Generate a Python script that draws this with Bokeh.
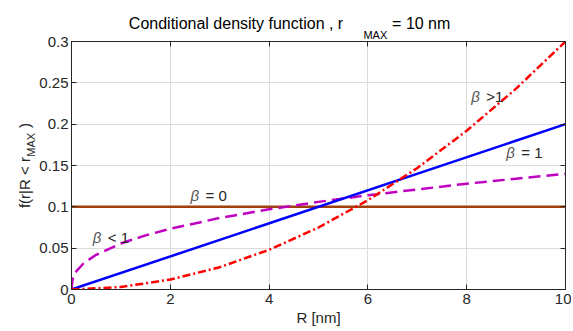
from bokeh.plotting import figure
from bokeh.models import Range1d, FixedTicker, LinearAxis, Label
from bokeh.embed import file_html
from bokeh.resources import INLINE

# ---- data ----
r_beta0 = [0, 10]
f_beta0 = [0.1, 0.1]

r_beta1 = [0, 10]
f_beta1 = [0.0, 0.2]

r_gt1 = [0, 1, 2, 3, 4, 5, 6, 7, 8, 9, 10]
f_gt1 = [0.0, 0.003, 0.012, 0.027, 0.048, 0.075, 0.108, 0.147, 0.192, 0.243, 0.300]

r_lt1 = [0, 0.02, 0.05, 0.1, 0.25, 0.5, 1, 1.5, 2, 3, 4, 5, 6, 7, 8, 9, 10]
f_lt1 = [0.0, 0.0117, 0.0168, 0.0222, 0.032, 0.042, 0.0557, 0.0655, 0.0735, 0.0865,
         0.097, 0.106, 0.114, 0.121, 0.128, 0.134, 0.140]

x_ticks = [0, 2, 4, 6, 8, 10]
x_tick_labels = ["0", "2", "4", "6", "8", "10"]
y_ticks = [0, 0.05, 0.1, 0.15, 0.2, 0.25, 0.3]
y_tick_labels = ["0", "0.05", "0.1", "0.15", "0.2", "0.25", "0.3"]

FONT = "Liberation Sans"
TXT = "#262626"
NB = "\u00a0"

p = figure(width=571, height=329, output_backend="svg", toolbar_location=None,
           x_range=Range1d(0, 10), y_range=Range1d(0, 0.3),
           min_border_left=71, min_border_right=6, min_border_top=41, min_border_bottom=40,
           title=None)
p.background_fill_color = "white"
p.border_fill_color = "white"
p.outline_line_color = TXT
p.outline_line_width = 1

for ax in (p.xaxis[0], p.yaxis[0]):
    ax.major_tick_in = 5
    ax.major_tick_out = 0
    ax.minor_tick_in = 0
    ax.minor_tick_out = 0
    ax.axis_line_color = TXT
    ax.major_tick_line_color = TXT
    ax.major_label_text_font = FONT
    ax.major_label_text_font_size = "15px"
    ax.major_label_text_color = TXT
    ax.axis_label_text_font = FONT
    ax.axis_label_text_font_size = "15px"
    ax.axis_label_text_font_style = "normal"
    ax.axis_label_text_color = TXT

p.xaxis[0].ticker = FixedTicker(ticks=x_ticks)
p.xaxis[0].major_label_overrides = {t: l for t, l in zip(x_ticks, x_tick_labels)}
p.xaxis[0].major_label_standoff = 4
p.xaxis[0].axis_label = "R [nm]"
p.xaxis[0].axis_label_standoff = 2

p.yaxis[0].ticker = FixedTicker(ticks=y_ticks)
p.yaxis[0].major_label_overrides = {t: l for t, l in zip(y_ticks, y_tick_labels)}
p.yaxis[0].major_label_standoff = 3

# box ticks on top and right (no labels)
for loc in ("above", "right"):
    ticks = x_ticks if loc == "above" else y_ticks
    ax = LinearAxis(ticker=FixedTicker(ticks=ticks))
    ax.major_label_overrides = {t: "" for t in ticks}
    ax.major_tick_in = 5
    ax.major_tick_out = 0
    ax.minor_tick_in = 0
    ax.minor_tick_out = 0
    ax.axis_line_color = TXT
    ax.major_tick_line_color = TXT
    ax.major_label_standoff = 0
    p.add_layout(ax, loc)


def text_axis(loc, tick, sub, label, sub_size, label_size, color, sub_standoff, label_standoff,
              orientation=None):
    ax = LinearAxis(ticker=FixedTicker(ticks=[tick]))
    ax.major_label_overrides = {tick: sub}
    ax.axis_line_color = None
    ax.major_tick_line_color = None
    ax.minor_tick_line_color = None
    ax.major_tick_in = 0
    ax.major_tick_out = 0
    ax.minor_tick_in = 0
    ax.minor_tick_out = 0
    ax.major_label_text_font = FONT
    ax.major_label_text_font_size = sub_size
    ax.major_label_text_color = color
    ax.major_label_standoff = sub_standoff
    if orientation is not None:
        ax.major_label_orientation = orientation
    ax.axis_label = label
    ax.axis_label_text_font = FONT
    ax.axis_label_text_font_size = label_size
    ax.axis_label_text_font_style = "normal"
    ax.axis_label_text_color = color
    ax.axis_label_standoff = label_standoff
    p.add_layout(ax, loc)
    return ax


# title: "Conditional density function , r_MAX = 10 nm"
title_text = "Conditional density function , r" + NB * 11 + "= 10 nm" + NB * 13
text_axis("above", 6.15, "MAX", title_text, "11px", "16px", "black", 1, -6)

# y label: "f(r|R < r_MAX)"
ylab_text = "f(r|R < r" + NB * 7 + ")"
text_axis("left", 0.175, "MAX", ylab_text, "11px", "15px", TXT, -1, -10, orientation="vertical")

p.xgrid.ticker = FixedTicker(ticks=x_ticks)
p.ygrid.ticker = FixedTicker(ticks=y_ticks)
p.grid.grid_line_color = "#dcdcdc"
p.grid.grid_line_width = 1

# curves
p.line(r_beta0, f_beta0, line_color="#a0410d", line_width=2.5)
p.line(r_lt1, f_lt1, line_color="#c000c0", line_width=2.5, line_dash="12 6")
p.line(r_beta1, f_beta1, line_color="#0000ff", line_width=2.5)
p.line(r_gt1, f_gt1, line_color="#ff0000", line_width=2.5, line_dash="8 3 2 3")

# curve annotations
def ann(x, y, rest):
    p.add_layout(Label(x=x, y=y, text="\u03b2", text_font=FONT, text_font_size="15px",
                       text_font_style="italic", text_color="#555555", text_baseline="middle"))
    p.add_layout(Label(x=x + 0.22, y=y, text=rest, text_font=FONT, text_font_size="15px",
                       text_color=TXT, text_baseline="middle"))

ann(2.41, 0.1137, NB + "=" + NB + "0")
ann(0.43, 0.063, NB + "<" + NB + "1")
ann(8.09, 0.2335, NB + ">1")
ann(8.80, 0.166, NB + "=" + NB + "1")

open("out.html", "w").write(file_html(p, INLINE))
